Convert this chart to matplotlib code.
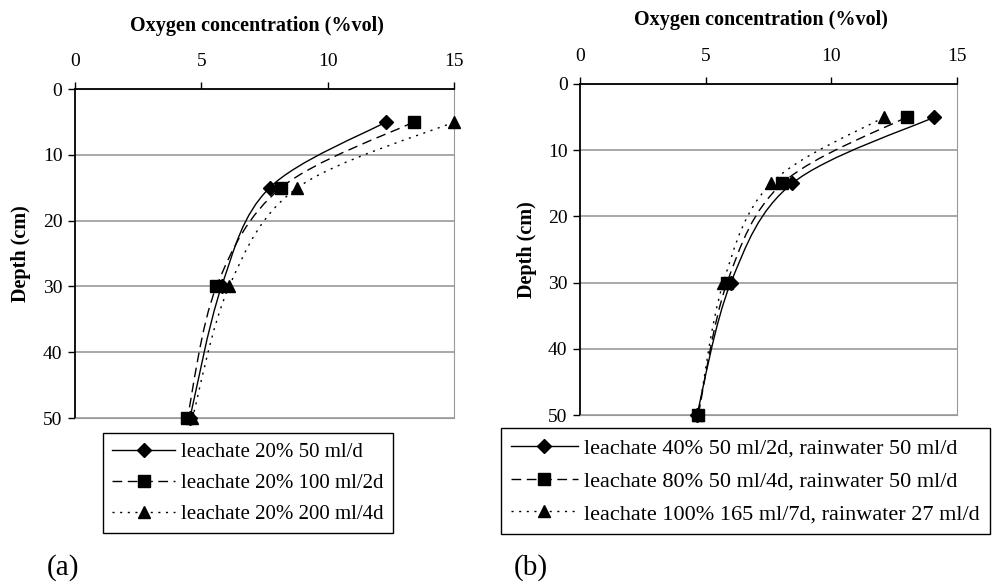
import numpy as np
import matplotlib.pyplot as plt
from matplotlib.path import Path
from matplotlib.patches import PathPatch
from matplotlib.lines import Line2D

plt.rcParams['font.family'] = ['Liberation Serif', 'DejaVu Serif']

depth = [5, 15, 30, 50]

# panel (a)
a_labels = ['leachate 20% 50 ml/d', 'leachate 20% 100 ml/2d', 'leachate 20% 200 ml/4d']
a_o2 = [
    [12.3, 7.7, 5.8, 4.55],
    [13.4, 8.15, 5.6, 4.45],
    [15.0, 8.8, 6.1, 4.65],
]

# panel (b)
b_labels = ['leachate 40% 50 ml/2d, rainwater 50 ml/d',
            'leachate 80% 50 ml/4d, rainwater 50 ml/d',
            'leachate 100% 165 ml/7d, rainwater 27 ml/d']
b_o2 = [
    [14.1, 8.45, 6.0, 4.65],
    [13.0, 8.05, 5.85, 4.7],
    [12.1, 7.6, 5.7, 4.7],
]

markers = ['D', 's', '^']
msizes = [7, 8, 9]
styles = ['-', (0, (7, 4)), (0, (1.5, 4))]


def smooth_path(xs, ys):
    # excel-like smoothed line: bezier segments with catmull-rom control points
    p = np.column_stack([xs, ys]).astype(float)
    n = len(p)
    verts = [p[0]]
    codes = [Path.MOVETO]
    for i in range(n - 1):
        prev = p[i - 1] if i > 0 else p[i]
        nxt = p[i + 2] if i + 2 < n else p[i + 1]
        c1 = p[i] + (p[i + 1] - prev) / 6
        c2 = p[i + 1] - (nxt - p[i]) / 6
        verts += [c1, c2, p[i + 1]]
        codes += [Path.CURVE4] * 3
    return Path(verts, codes)


def panel(ax, series, labels, legend_box, legend_size):
    handles = []
    for vals, lab, m, ms, ls in zip(series, labels, markers, msizes, styles):
        patch = PathPatch(smooth_path(vals, depth), fill=False, edgecolor='black',
                          linewidth=1.0, linestyle=ls, clip_on=False)
        ax.add_patch(patch)
        ax.plot(vals, depth, linestyle='none', marker=m, markersize=ms,
                color='black', clip_on=False, zorder=5)
        handles.append(Line2D([], [], color='black', linestyle=ls, linewidth=1.0,
                              marker=m, markersize=ms))
    ax.set_xlim(0, 15)
    ax.set_ylim(50, 0)
    ax.xaxis.tick_top()
    ax.xaxis.set_label_position('top')
    ax.set_xticks([0, 5, 10, 15])
    ax.set_yticks([0, 10, 20, 30, 40, 50])
    ax.tick_params(labelsize=14, length=5, width=1, direction='out', colors='black')
    ax.tick_params(axis='x', pad=9)
    ax.tick_params(axis='y', pad=4)
    ax.yaxis.grid(True, color='#999999', linewidth=1.2)
    ax.set_axisbelow(True)
    ax.spines['left'].set_color('black')
    ax.spines['top'].set_color('black')
    ax.spines['left'].set_linewidth(1.3)
    ax.spines['top'].set_linewidth(1.3)
    ax.spines['right'].set_color('#999999')
    ax.spines['bottom'].set_color('#999999')
    ax.set_xlabel('Oxygen concentration (%vol)', fontsize=14.5, fontweight='bold')
    ax.xaxis.set_label_coords(0.48, 1.177)
    ax.set_ylabel('Depth (cm)', fontsize=14.5, fontweight='bold')
    ax.yaxis.set_label_coords(-0.115, 0.5)
    leg = ax.legend(handles, labels, loc='upper left', bbox_to_anchor=legend_box,
                    bbox_transform=ax.figure.transFigure, fontsize=legend_size,
                    frameon=True, fancybox=False, edgecolor='black', framealpha=1,
                    handlelength=3.0, handletextpad=0.3, labelspacing=0.55,
                    borderpad=0.45, borderaxespad=0)
    leg.get_frame().set_linewidth(1.0)


fig = plt.figure(figsize=(9.92, 5.83), dpi=100)
ax1 = fig.add_axes([0.0756, 0.283, 0.382, 0.564])
ax2 = fig.add_axes([0.5847, 0.288, 0.380, 0.568])

panel(ax1, a_o2, a_labels, (103 / 992, 1 - 433 / 583), 15)
panel(ax2, b_o2, b_labels, (501 / 992, 1 - 428 / 583), 16)

fig.text(47 / 992, 1 - 568 / 583, '(a)', fontsize=21, va='center', ha='left')
fig.text(514 / 992, 1 - 568 / 583, '(b)', fontsize=21, va='center', ha='left')

fig.savefig('out.png', dpi=100)
